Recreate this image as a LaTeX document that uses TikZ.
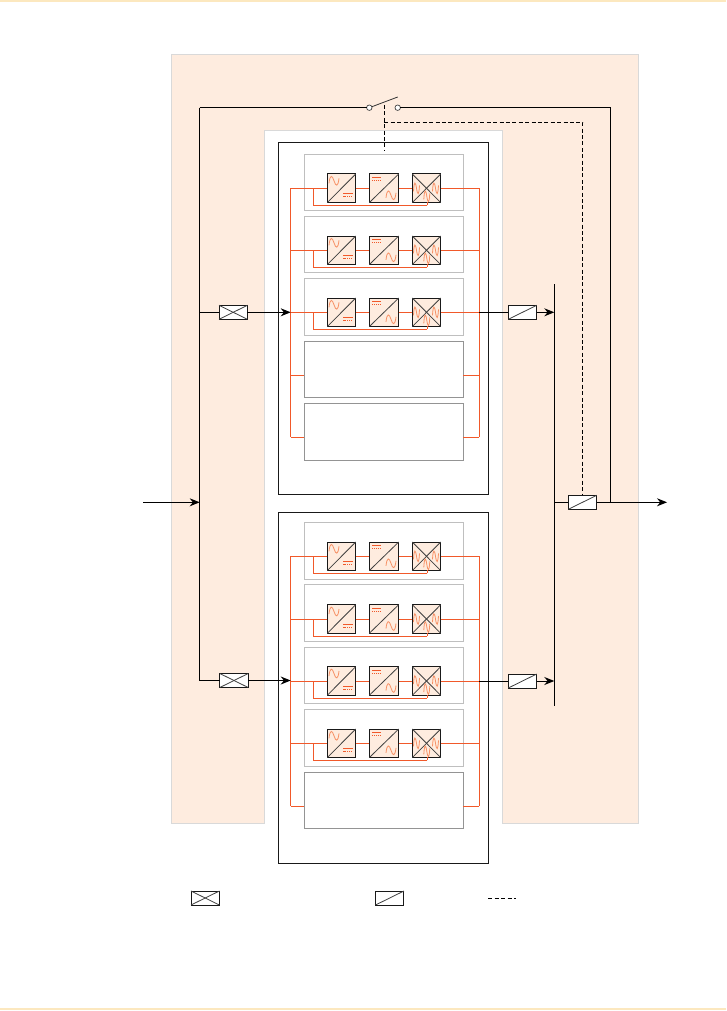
\documentclass[tikz,border=0pt]{standalone}
\usetikzlibrary{arrows.meta}
\definecolor{peach}{HTML}{FEECDF}
\definecolor{wireor}{HTML}{F1592A}
\definecolor{sineor}{HTML}{F79064}
\definecolor{pageline}{HTML}{FCE8BF}
\tikzset{
  x=1pt,y=-1pt,
  blk/.style={draw=black,line width=1pt},
  arw/.style={blk,-{Stealth[length=10pt,width=8pt]}},
  wire/.style={draw=wireor,line width=.95pt},
  modlight/.style={draw=black!25,fill=white,line width=1pt,minimum width=159pt,minimum height=56.5pt,inner sep=0pt,outer sep=0pt},
  moddark/.style={draw=black!42,fill=white,line width=1pt,minimum width=159pt,minimum height=56.5pt,inner sep=0pt,outer sep=0pt},
  frameb/.style={draw=black!90,fill=white,line width=1pt,inner sep=0pt,outer sep=0pt},
  conv/.style={draw=black!90,fill=peach,line width=1pt,minimum width=28.4pt,minimum height=28.6pt,inner sep=0pt,outer sep=0pt},
  inl/.style={draw=black!90,fill=white,line width=1pt,minimum width=28.4pt,minimum height=14pt,inner sep=0pt,outer sep=0pt},
  diag/.style={draw=black!75,line width=.8pt},
  sw/.style={circle,draw=black!75,fill=white,line width=.7pt,minimum size=5.5pt,inner sep=0pt,outer sep=0pt},
  sinew/.pic={\draw[sineor,line width=.8pt] (-5,2.5) .. controls (-4,-6.5) and (-1.8,-6) .. (0,0) .. controls (1.8,6) and (4,6.5) .. (5,-2.5);},
  dcsym/.pic={\draw[wireor,line width=.9pt] (-4.7,-1.5) -- (4.7,-1.5);
              \draw[wireor,line width=.8pt,dash pattern=on 1.2pt off .7pt] (-4.7,1.5) -- (4.7,1.5);},
  ctrl/.style={draw=black,line width=.9pt,dash pattern=on 4pt off 2.4pt},
}
% one row of three converters with its bypass feed: #1 name, #2 y of the line
\newcommand{\convrow}[2]{%
  \node[conv] (#1a) at (341.5,#2) {};
  \node[conv,minimum width=29.4pt] (#1b) at (384,#2) {};
  \node[conv] (#1c) at (426.5,#2) {};
  \draw[diag] (#1a.south west) -- (#1a.north east);
  \draw[diag] (#1b.south west) -- (#1b.north east);
  \draw[diag] (#1c.south west) -- (#1c.north east);
  \draw[diag] (#1c.north west) -- (#1c.south east);
  \coordinate (#1s) at (313.3,#2);
  \coordinate (#1f) at ([yshift=-17pt]#1s);
  \draw[wire] (#1a.west) -- (#1s);
  \draw[wire] (#1s) -- (#1f) -- (#1f -| #1c.south) ++(1.2,0) |- (#1c.south);
  \draw[wire] (#1a.east) -- (#1b.west);
  \draw[wire] (#1b.east) -- (#1c.west);
  \pic at ([shift={(-7.5,-7.5)}]#1a.center) {sinew};
  \pic at ([shift={(6.5,6.8)}]#1a.center) {dcsym};
  \pic at ([shift={(-7.3,-9)}]#1b.center) {dcsym};
  \pic at ([shift={(7,7)}]#1b.center) {sinew};
  \pic[xscale=.6,yscale=1.2] at ([shift={(-10,0)}]#1c.center) {sinew};
  \pic[xscale=.6,yscale=1.2] at ([shift={(9,0)}]#1c.center) {sinew};
  \pic[xscale=.6,yscale=1.2] at ([shift={(0.3,8)}]#1c.center) {sinew};
}
\begin{document}
\begin{tikzpicture}
\useasboundingbox (0,0) rectangle (726,1011);
\fill[white] (0,0) rectangle (726,1011);
\draw[pageline,line width=2pt] (0,1) -- (726,1);
\draw[pageline,line width=2pt] (0,1009) -- (726,1009);
% background zones
\filldraw[fill=peach,draw=black!15,line width=1pt] (171,54.5) rectangle (638.5,823);
\fill[white] (264.5,131) rectangle (502.5,830);
\draw[draw=black!15,line width=1pt] (264.5,823.5) -- (264.5,131) -- (502.5,131) -- (502.5,823.5);
% frames
\node[frameb,minimum width=210.2pt,minimum height=351.7pt] (top) at (383.6,318.2) {};
\node[frameb,minimum width=210.2pt,minimum height=351pt] (bot) at (383.6,687.5) {};
% modules
\node[modlight] (m1) at (383.8,182.3) {};
\node[modlight] (m2) at (383.8,244.5) {};
\node[modlight] (m3) at (383.8,306.8) {};
\node[moddark]  (m4) at (383.8,369.5) {};
\node[moddark]  (m5) at (383.8,432) {};
\node[modlight] (n1) at (383.8,550.8) {};
\node[modlight] (n2) at (383.8,612.8) {};
\node[modlight] (n3) at (383.8,675.5) {};
\node[modlight] (n4) at (383.8,737.8) {};
\node[moddark]  (n5) at (383.8,800.5) {};
% rails
\coordinate (LT1) at (290.7,188.3); \coordinate (LT2) at (290.7,250.3); \coordinate (LT3) at (290.7,312.3);
\coordinate (LT4) at (290.7,375.3); \coordinate (LT5) at (290.7,437.3);
\coordinate (RT1) at (479.3,188.3); \coordinate (RT2) at (479.3,250.3); \coordinate (RT3) at (479.3,312.3);
\coordinate (RT4) at (479.3,375.3); \coordinate (RT5) at (479.3,437.3);
\coordinate (LB1) at (290.7,556.3); \coordinate (LB2) at (290.7,619); \coordinate (LB3) at (290.7,681);
\coordinate (LB4) at (290.7,743.3); \coordinate (LB5) at (290.7,806.3);
\coordinate (RB1) at (479.3,556.3); \coordinate (RB2) at (479.3,619); \coordinate (RB3) at (479.3,681);
\coordinate (RB4) at (479.3,743.3); \coordinate (RB5) at (479.3,806.3);
% converter rows
\convrow{t1}{188.3}
\convrow{t2}{250.3}
\convrow{t3}{312.3}
\convrow{b1}{556.3}
\convrow{b2}{619}
\convrow{b3}{681}
\convrow{b4}{743.3}
\draw[wire] (LT1) -- (LT5);
\draw[wire] (RT1) -- (RT5);
\draw[wire] (LB1) -- (LB5);
\draw[wire] (RB1) -- (RB5);
\draw[wire] (LT1) -- (t1a.west); \draw[wire] (LT2) -- (t2a.west); \draw[wire] (LT3) -- (t3a.west);
\draw[wire] (LT4) -- (LT4 -| m4.west); \draw[wire] (LT5) -- (LT5 -| m5.west);
\draw[wire] (t1c.east) -- (RT1); \draw[wire] (t2c.east) -- (RT2); \draw[wire] (t3c.east) -- (RT3);
\draw[wire] (RT4 -| m4.east) -- (RT4); \draw[wire] (RT5 -| m5.east) -- (RT5);
\draw[wire] (LB1) -- (b1a.west); \draw[wire] (LB2) -- (b2a.west); \draw[wire] (LB3) -- (b3a.west); \draw[wire] (LB4) -- (b4a.west);
\draw[wire] (LB5) -- (LB5 -| n5.west);
\draw[wire] (b1c.east) -- (RB1); \draw[wire] (b2c.east) -- (RB2); \draw[wire] (b3c.east) -- (RB3); \draw[wire] (b4c.east) -- (RB4);
\draw[wire] (RB5 -| n5.east) -- (RB5);
% inline symbols
\node[inl] (qt) at (233.2,312.3) {};
\node[inl] (qb) at (234,680.5) {};
\node[inl] (ct) at (522.5,312.3) {};
\node[inl] (cb) at (522.5,681) {};
\node[inl] (co) at (582.5,502.3) {};
\draw[diag] (qt.south west) -- (qt.north east); \draw[diag] (qt.north west) -- (qt.south east);
\draw[diag] (qb.south west) -- (qb.north east); \draw[diag] (qb.north west) -- (qb.south east);
\draw[diag] (ct.south west) -- (ct.north east);
\draw[diag] (cb.south west) -- (cb.north east);
\draw[diag] (co.south west) -- (co.north east);
% black bus
\coordinate (in) at (143,502.3);
\coordinate (bus) at (199.7,502.3);
\coordinate (busT) at (199.7,107.7);
\coordinate (busB) at (199.7,680.5);
\coordinate (barT) at (554.3,284);
\coordinate (barB) at (554.3,706);
\coordinate (out) at (667,502.3);
\coordinate (byp) at (610.3,502.3);
\node[sw] (s1) at (369.3,107.7) {};
\node[sw] (s2) at (397.7,107.7) {};
\coordinate (blade) at (397.7,97);
\coordinate (dtop) at (384.3,105);
\coordinate (dkn) at (384.3,122.3);
\coordinate (dfar) at (582.7,122.3);
\coordinate (dend) at (384.3,151);
\draw[arw] (in) -- (bus);
\draw[blk] (busT) -- (busB);
\draw[blk] (busT) -- (s1);
\draw[blk] (s2) -| (byp);
\draw[draw=black!80,line width=.8pt] (s1) -- (blade);
\draw[blk] (busB) -- (qb);
\draw[blk] (bus |- qt) -- (qt);
\draw[arw] (qt) -- (LT3);
\draw[arw] (qb) -- (qb -| LB3);
\draw[blk] (RT3) -- (ct);
\draw[blk] (RB3) -- (cb);
\draw[arw] (ct) -- (ct -| barT);
\draw[arw] (cb) -- (cb -| barT);
\draw[blk] (barT) -- (barB);
\draw[blk] (barT |- co) -- (co);
\draw[arw] (co) -- (out);
\draw[ctrl] (dtop) -- (dend);
\draw[ctrl] (dkn) -- (dfar) -- (dfar |- co.north);
% legend
\node[inl] (lq) at (205.2,898) {};
\node[inl] (lc) at (389.7,898) {};
\draw[diag] (lq.south west) -- (lq.north east); \draw[diag] (lq.north west) -- (lq.south east);
\draw[diag] (lc.south west) -- (lc.north east);
\coordinate (ld1) at (488.3,898);
\coordinate (ld2) at (516,898);
\draw[ctrl] (ld1) -- (ld2);
\end{tikzpicture}
\end{document}
